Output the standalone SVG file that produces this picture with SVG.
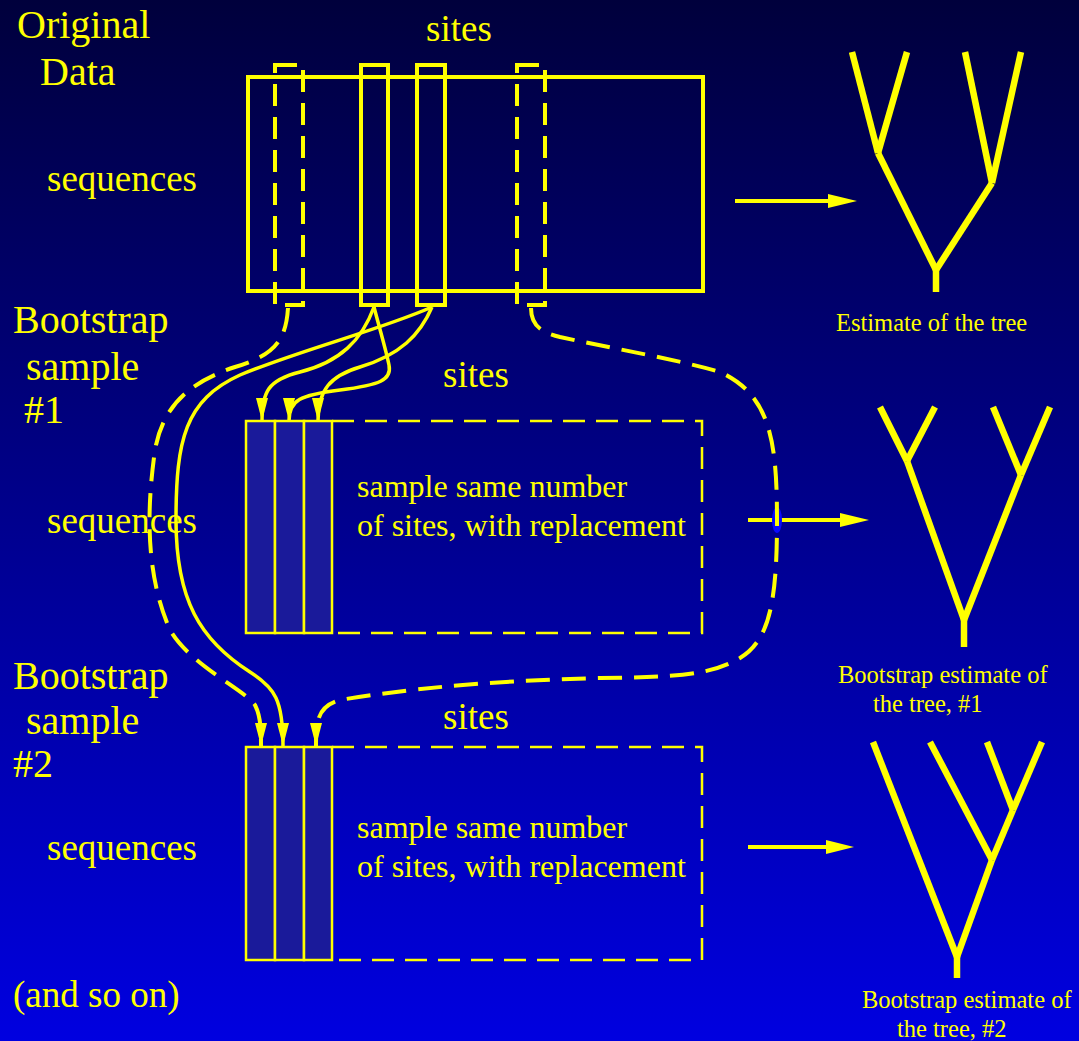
<svg xmlns="http://www.w3.org/2000/svg" width="1079" height="1041" viewBox="0 0 1079 1041">
<defs>
<linearGradient id="bg" x1="0" y1="0" x2="0" y2="1">
<stop offset="0" stop-color="#00003c"/>
<stop offset="1" stop-color="#0000e0"/>
</linearGradient>
<marker id="ah" markerUnits="userSpaceOnUse" markerWidth="24" markerHeight="12" refX="23" refY="6" orient="auto" overflow="visible">
<path d="M0,0 L23,6 L0,12 z" fill="#ffff00"/>
</marker>
<style>
text{font-family:"Liberation Serif","Times New Roman",serif;fill:#ffff00}
.big{font-size:40px}
.mid{font-size:37px}
.box{font-size:32px}
.lab{font-size:24.5px}
.thick{fill:none;stroke:#ffff00;stroke-width:4}
.dcol{fill:none;stroke:#ffff00;stroke-width:4;stroke-dasharray:22 11}
.scol{fill:#1a1a9a;stroke:#ffff00;stroke-width:2.5}
.dbox{fill:none;stroke:#ffff00;stroke-width:2.5;stroke-dasharray:22 11}
.curve{fill:none;stroke:#ffff00;stroke-width:3.5;marker-end:url(#ah)}
.dcurve{fill:none;stroke:#ffff00;stroke-width:4;stroke-dasharray:24 12;marker-end:url(#ah)}
.tree line{stroke:#ffff00;stroke-width:6.5}
.arr{stroke:#ffff00;stroke-width:4}
.head{fill:#ffff00}
</style>
</defs>
<rect width="1079" height="1041" fill="url(#bg)"/>

<g id="labels">
<text class="big" x="17" y="38">Original</text>
<text class="big" x="40" y="85">Data</text>
<text class="big" x="13" y="333">Bootstrap</text>
<text class="big" x="26" y="380">sample</text>
<text class="big" x="24" y="423">#1</text>
<text class="big" x="13" y="689">Bootstrap</text>
<text class="big" x="26" y="734">sample</text>
<text class="big" x="13" y="777">#2</text>
<text class="mid" x="13" y="1007">(and so on)</text>
</g>

<g id="original-data">
<text class="mid" x="426" y="41">sites</text>
<text class="mid" x="47" y="191">sequences</text>
<rect class="thick" x="248" y="77" width="455" height="214"/>
<rect class="dcol" x="275" y="65" width="28" height="240"/>
<rect class="thick" x="361" y="65" width="27" height="240"/>
<rect class="thick" x="417" y="65" width="28" height="240"/>
<rect class="dcol" x="517" y="65" width="28" height="240"/>
</g>

<g id="sample-1">
<text class="mid" x="443" y="387">sites</text>
<text class="mid" x="47" y="533">sequences</text>
<rect class="scol" x="246" y="421" width="29" height="212"/>
<rect class="scol" x="275" y="421" width="29" height="212"/>
<rect class="scol" x="304" y="421" width="28" height="212"/>
<path class="dbox" d="M332,421 H702 V633 H332"/>
<text class="box" x="357" y="497">sample same number</text>
<text class="box" x="357" y="536">of sites, with replacement</text>
</g>

<g id="sample-2">
<text class="mid" x="443" y="729">sites</text>
<text class="mid" x="47" y="860">sequences</text>
<rect class="scol" x="246" y="747" width="29" height="213"/>
<rect class="scol" x="275" y="747" width="29" height="213"/>
<rect class="scol" x="304" y="747" width="28" height="213"/>
<path class="dbox" d="M332,747 H702 V960 H332"/>
<text class="box" x="357" y="838">sample same number</text>
<text class="box" x="357" y="877">of sites, with replacement</text>
</g>

<g id="tree-0" class="tree">
<line x1="852" y1="52" x2="878" y2="153"/>
<line x1="907" y1="52" x2="878" y2="153"/>
<line x1="878" y1="153" x2="936" y2="270"/>
<line x1="965" y1="52" x2="992" y2="183"/>
<line x1="1021" y1="52" x2="992" y2="183"/>
<line x1="992" y1="183" x2="936" y2="270"/>
<line x1="936" y1="268" x2="936" y2="292"/>
<text class="lab" x="836" y="331">Estimate of the tree</text>
</g>

<g id="tree-1" class="tree">
<line x1="880" y1="407" x2="907" y2="461"/>
<line x1="935" y1="407" x2="907" y2="461"/>
<line x1="907" y1="461" x2="964" y2="620"/>
<line x1="993" y1="407" x2="1021" y2="475"/>
<line x1="1050" y1="407" x2="1021" y2="475"/>
<line x1="1021" y1="475" x2="964" y2="620"/>
<line x1="964" y1="618" x2="964" y2="647"/>
<text class="lab" x="838" y="683">Bootstrap estimate of</text>
<text class="lab" x="873" y="712">the tree, #1</text>
</g>

<g id="tree-2" class="tree">
<line x1="873" y1="742" x2="957" y2="957"/>
<line x1="930" y1="742" x2="992" y2="860"/>
<line x1="987" y1="742" x2="1013" y2="810"/>
<line x1="1042" y1="742" x2="1013" y2="810"/>
<line x1="1013" y1="810" x2="992" y2="860"/>
<line x1="992" y1="860" x2="957" y2="957"/>
<line x1="957" y1="955" x2="957" y2="978"/>
<text class="lab" x="862" y="1008">Bootstrap estimate of</text>
<text class="lab" x="897" y="1037">the tree, #2</text>
</g>

<g id="connectors">
<line class="arr" x1="735" y1="201" x2="832" y2="201"/>
<polygon class="head" points="828,194 857,201 828,208"/>
<line class="arr" x1="748" y1="520" x2="843" y2="520"/>
<polygon class="head" points="840,513 869,520 840,527"/>
<line class="arr" x1="748" y1="847" x2="829" y2="847"/>
<polygon class="head" points="826,840 854,847 826,854"/>
<ellipse cx="777" cy="520" rx="5" ry="13" fill="#0a0aff"/>

<path class="curve" d="M374,307 C362,340 340,362 300,372 C268,380 262,392 262,421"/>
<path class="curve" d="M374,307 C380,330 386,350 389,365 C392,380 380,385 340,390 C300,395 289,400 289,421"/>
<path class="curve" d="M432,307 C420,335 400,355 360,367 C330,376 318,390 318,421"/>
<path class="curve" d="M432,307 C380,330 300,350 240,375 C185,400 176,440 176,520 C176,600 200,640 250,672 C275,688 283,700 283,746"/>
<path class="dcurve" d="M288,308 C286,340 275,355 235,367 C190,382 163,405 155,450 C145,520 148,580 170,630 C190,665 245,690 255,705 C260,715 261,725 261,746"/>
<path class="dcurve" d="M531,308 C531,325 540,332 560,337 C620,350 680,360 720,372 C770,395 777,440 777,520 C777,600 770,640 740,658 C710,675 680,677 600,678 C480,681 400,690 340,700 C318,706 316,720 316,746"/>
</g>
</svg>
